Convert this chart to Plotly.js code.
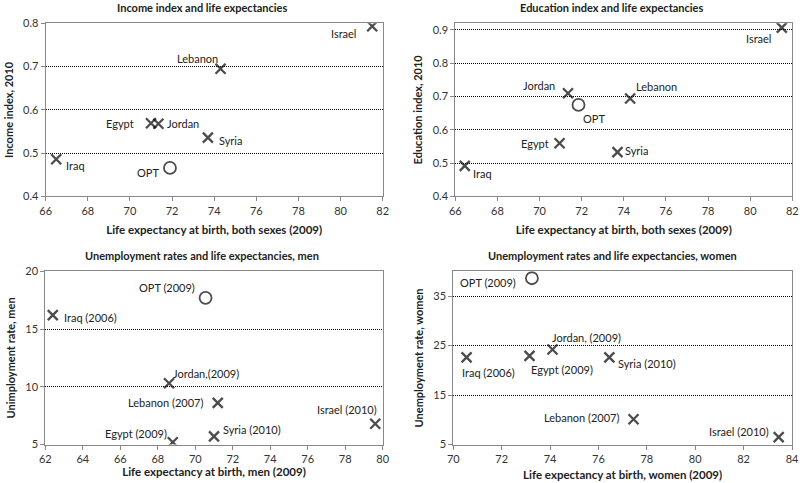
<!DOCTYPE html>
<html>
<head>
<meta charset="utf-8">
<script src="https://cdn.plot.ly/plotly-3.0.1.min.js"></script>
<style>html,body{margin:0;padding:0;background:#fff;}#chart{width:800px;height:483px;}</style>
</head>
<body>
<div id="chart"></div>
<script>
// ---------- DATA ----------
// Panel 1: Income index vs life expectancy (both sexes, 2009)
const incLabels   = ['Israel', 'Lebanon', 'Egypt', 'Jordan', 'Syria', 'Iraq', 'OPT'];
const incLifeExp  = [81.5, 74.3, 71.0, 71.35, 73.7, 66.5, 71.9];
const incIndex    = [0.793, 0.695, 0.569, 0.568, 0.536, 0.486, 0.466];

// Panel 2: Education index vs life expectancy (both sexes, 2009)
const eduLabels   = ['Israel', 'Lebanon', 'Egypt', 'Jordan', 'Syria', 'Iraq', 'OPT'];
const eduLifeExp  = [81.5, 74.3, 70.95, 71.35, 73.7, 66.45, 71.85];
const eduIndex    = [0.907, 0.694, 0.560, 0.710, 0.533, 0.492, 0.675];

// Panel 3: Unemployment rate vs life expectancy, men
const menLabels   = ['Israel (2010)', 'Lebanon (2007)', 'Egypt (2009)', 'Jordan,(2009)', 'Syria (2010)', 'Iraq (2006)', 'OPT (2009)'];
const menLifeExp  = [79.6, 71.2, 68.8, 68.6, 71.0, 62.4, 70.55];
const menUnemp    = [6.8, 8.6, 5.2, 10.3, 5.7, 16.2, 17.7];

// Panel 4: Unemployment rate vs life expectancy, women
const womLabels   = ['Israel (2010)', 'Lebanon (2007)', 'Egypt (2009)', 'Jordan, (2009)', 'Syria (2010)', 'Iraq (2006)', 'OPT (2009)'];
const womLifeExp  = [83.45, 77.45, 73.15, 74.1, 76.45, 70.55, 73.25];
const womUnemp    = [6.5, 10.1, 22.9, 24.2, 22.6, 22.6, 38.6];

// Titles
const panelTitles = [
  'Income index and life expectancies',
  'Education index and life expectancies',
  'Unemployment rates and life expectancies, men',
  'Unemployment rates and life expectancies, women'
];
const xTitles = [
  'Life expectancy at birth, both sexes (2009)',
  'Life expectancy at birth, both sexes (2009)',
  'Life expectancy at birth, men (2009)',
  'Life expectancy at birth, women (2009)'
];
const yTitles = ['Income index, 2010', 'Education index, 2010', 'Unimployment rate, men', 'Unemployment rate, women'];

// ---------- STYLE (label placement: [xanchor, dx px, dy px down]) ----------
const labelPos = [
  [['right',-14,7],['right',-1,-10],['right',-15,0],['left',7,0],['left',9,3],['left',8,6],['right',-9,5]],
  [['right',-9,11],['left',4,-12],['right',-9,0],['right',-11,-8],['left',6,-2],['left',6,8],['left',2,14]],
  [['right',4,-14],['right',-13,0],['right',-4,-9],['left',2,-10],['left',7,-7],['left',9,2],['right',-9,-10]],
  [['right',-8,-6],['right',-13,-2],['left',0,14],['left',-2,-12],['left',7,6],['left',-7,15],['right',-14,4]]
];

const FONT = 'Lato, "Noto Sans", "DejaVu Sans", sans-serif';
const panels = [
  {labels: incLabels, x: incLifeExp, y: incIndex},
  {labels: eduLabels, x: eduLifeExp, y: eduIndex},
  {labels: menLabels, x: menLifeExp, y: menUnemp},
  {labels: womLabels, x: womLifeExp, y: womUnemp}
];
const axisIds = [['x','y'],['x2','y2'],['x3','y3'],['x4','y4']];

const traces = panels.map((p, i) => {
  const isOPT = p.labels.map(l => l.startsWith('OPT'));
  return {
    type: 'scatter', mode: 'markers',
    x: p.x, y: p.y, xaxis: axisIds[i][0], yaxis: axisIds[i][1],
    hoverinfo: 'skip', showlegend: false,
    marker: {
      symbol: isOPT.map(o => o ? 'circle-open' : 'x-thin-open'),
      size: isOPT.map(o => o ? 12 : 10),
      color: '#000',
      line: {color: '#000', width: isOPT.map(o => o ? 1.8 : 2.3)}
    }
  };
});

const annotations = [];
panels.forEach((p, i) => {
  p.labels.forEach((lab, k) => {
    const pos = labelPos[i][k];
    annotations.push({
      text: lab, x: p.x[k], y: p.y[k],
      xref: axisIds[i][0], yref: axisIds[i][1],
      showarrow: false, xanchor: pos[0], yanchor: 'middle',
      xshift: pos[1], yshift: -pos[2],
      font: {family: FONT, size: 11, color: '#222'}
    });
  });
});
const titlePos = [[0.2525, 0.985], [0.764, 0.985], [0.2525, 0.472], [0.766, 0.472]];
panelTitles.forEach((t, i) => {
  annotations.push({
    text: '<b>' + t + '</b>', xref: 'paper', yref: 'paper',
    x: titlePos[i][0], y: titlePos[i][1], xanchor: 'center', yanchor: 'middle',
    showarrow: false, font: {family: FONT, size: 11, color: '#222'}
  });
});

function xAx(range, domain, anchor, title, standoff) {
  return {
    domain: domain, range: range, dtick: 2, anchor: anchor,
    showgrid: false, zeroline: false,
    showline: true, linecolor: '#888', linewidth: 1, mirror: true,
    ticks: 'outside', ticklen: 4, tickcolor: '#888',
    tickfont: {family: FONT, size: 11, color: '#333'},
    title: {text: '<b>' + title + '</b>', font: {family: FONT, size: 11.5, color: '#222'}, standoff: standoff}
  };
}
function yAx(range, domain, anchor, title, dtick, tick0, fmt) {
  return {
    domain: domain, range: range, dtick: dtick, tick0: tick0, anchor: anchor,
    tickformat: fmt,
    showgrid: true, gridcolor: '#000', gridwidth: 1, griddash: '1px,1px',
    zeroline: false,
    showline: true, linecolor: '#888', linewidth: 1, mirror: true,
    ticks: 'outside', ticklen: 4, tickcolor: '#888',
    tickfont: {family: FONT, size: 11, color: '#333'},
    title: {text: '<b>' + title + '</b>', font: {family: FONT, size: 11, color: '#222'}, standoff: 7}
  };
}

const topD = [0.5932, 0.9518], botD = [0.0797, 0.4383];
const layout = {
  width: 800, height: 483,
  margin: {l: 0, r: 0, t: 0, b: 0},
  paper_bgcolor: '#fff', plot_bgcolor: '#fff',
  showlegend: false,
  xaxis:  xAx([66, 82], [0.0571, 0.4784], 'y',  xTitles[0], 10),
  yaxis:  yAx([0.4, 0.8], topD, 'x', yTitles[0], 0.1, 0.4, '.1f'),
  xaxis2: xAx([66, 82], [0.5691, 0.9904], 'y2', xTitles[1], 10),
  yaxis2: yAx([0.4, 0.92], topD, 'x2', yTitles[1], 0.1, 0.4, '.1f'),
  xaxis3: xAx([62, 80], [0.0566, 0.4784], 'y3', xTitles[2], 4),
  yaxis3: yAx([5, 20], botD, 'x3', yTitles[2], 5, 5, 'd'),
  xaxis4: xAx([70, 84], [0.5666, 0.99], 'y4', xTitles[3], 7),
  yaxis4: yAx([5, 40], botD, 'x4', yTitles[3], 10, 5, 'd'),
  annotations: annotations
};

Plotly.newPlot('chart', traces, layout, {staticPlot: true, displayModeBar: false});
</script>
</body>
</html>
